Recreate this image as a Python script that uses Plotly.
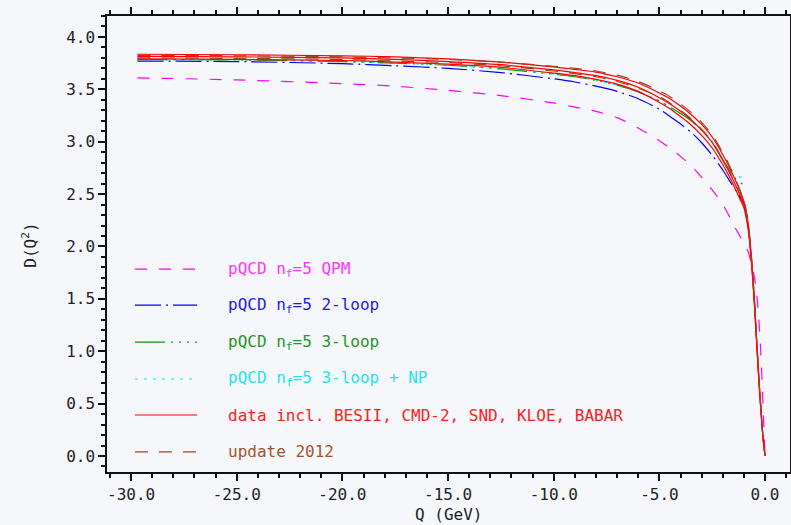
import plotly.graph_objects as go

# ---------------- data ----------------
Q = [-29.7, -25, -20, -17.5, -15, -12.5, -10, -9, -8, -7, -6, -5, -4.5, -4, -3.5, -3,
     -2.5, -2, -1.75, -1.5, -1.25, -1.0, -0.9, -0.8, -0.7, -0.6, -0.5, -0.4, -0.3, -0.2,
     -0.1, 0.0]
Q_blue = Q[:24]    # 2-loop curve ends near Q = -0.8
Q_green = Q[:23]   # 3-loop curves end near Q = -0.9

D_qpm = [3.61, 3.59, 3.555, 3.53, 3.49, 3.44, 3.37, 3.33, 3.29, 3.23, 3.13, 3.01, 2.94, 2.86,
         2.77, 2.66, 2.54, 2.40, 2.31, 2.21, 2.12, 2.03, 1.99, 1.95, 1.88, 1.80, 1.70, 1.56,
         1.32, 0.98, 0.50, 0.0]
D_2loop = [3.77, 3.765, 3.745, 3.725, 3.70, 3.66, 3.60, 3.57, 3.53, 3.48, 3.41, 3.31, 3.24,
           3.17, 3.09, 2.99, 2.87, 2.73, 2.65, 2.57, 2.49, 2.41, 2.33, 2.22]
D_3loop = [3.785, 3.78, 3.765, 3.75, 3.73, 3.695, 3.645, 3.62, 3.585, 3.54, 3.475, 3.39, 3.33,
           3.27, 3.20, 3.11, 3.00, 2.83, 2.75, 2.67, 2.62, 2.59, 2.585]
D_3loop_np = [3.785, 3.78, 3.765, 3.75, 3.73, 3.695, 3.645, 3.62, 3.585, 3.54, 3.475, 3.39, 3.33,
              3.27, 3.20, 3.11, 3.00, 2.83, 2.75, 2.68, 2.66, 2.67, 2.68]

D_data_up = [3.835, 3.83, 3.82, 3.81, 3.79, 3.76, 3.715, 3.69, 3.665, 3.62, 3.56, 3.465, 3.41,
             3.34, 3.26, 3.165, 3.045, 2.875, 2.78, 2.675, 2.56, 2.43, 2.34, 2.22, 2.03, 1.78,
             1.48, 1.12, 0.77, 0.46, 0.19, 0.0]
D_data = [3.815, 3.81, 3.80, 3.785, 3.765, 3.735, 3.685, 3.66, 3.63, 3.585, 3.52, 3.42, 3.36,
          3.29, 3.21, 3.11, 2.99, 2.82, 2.73, 2.63, 2.52, 2.40, 2.31, 2.19, 2.00, 1.75, 1.45,
          1.10, 0.75, 0.45, 0.18, 0.0]
D_data_lo = [3.79, 3.785, 3.775, 3.76, 3.74, 3.71, 3.655, 3.63, 3.595, 3.55, 3.48, 3.375, 3.315,
             3.24, 3.16, 3.06, 2.94, 2.78, 2.69, 2.59, 2.48, 2.37, 2.28, 2.16, 1.97, 1.72, 1.42,
             1.08, 0.73, 0.44, 0.17, 0.0]
D_2012_up = [3.825, 3.82, 3.81, 3.80, 3.785, 3.76, 3.72, 3.70, 3.675, 3.635, 3.575, 3.485, 3.43,
             3.36, 3.28, 3.185, 3.065, 2.895, 2.80, 2.69, 2.57, 2.44, 2.35, 2.23, 2.04, 1.79,
             1.49, 1.13, 0.78, 0.47, 0.19, 0.0]
D_2012 = [3.80, 3.795, 3.785, 3.77, 3.755, 3.725, 3.675, 3.65, 3.62, 3.575, 3.51, 3.43, 3.37,
          3.30, 3.22, 3.12, 3.00, 2.83, 2.74, 2.64, 2.53, 2.41, 2.32, 2.20, 2.01, 1.76, 1.46,
          1.11, 0.76, 0.45, 0.18, 0.0]

x_tickvals = [-30, -25, -20, -15, -10, -5, 0]
x_ticktext = ["-30.0", "-25.0", "-20.0", "-15.0", "-10.0", "-5.0", "0.0"]
y_tickvals = [0, 0.5, 1.0, 1.5, 2.0, 2.5, 3.0, 3.5, 4.0]
y_ticktext = ["0.0", "0.5", "1.0", "1.5", "2.0", "2.5", "3.0", "3.5", "4.0"]

legend_labels = [
    "pQCD n<sub>f</sub>=5 QPM",
    "pQCD n<sub>f</sub>=5 2-loop",
    "pQCD n<sub>f</sub>=5 3-loop",
    "pQCD n<sub>f</sub>=5 3-loop + NP",
    "data incl. BESII, CMD-2, SND, KLOE, BABAR",
    "update 2012",
]
x_title = "Q (GeV)"
y_title = "D(Q<sup>2</sup>)"

# ---------------- styles ----------------
MAG, BLUE, GREEN, CYAN, RED, BROWN = "#ff00ff", "#0000ff", "#109a10", "#00f0f0", "#ff0000", "#a8401a"
TXT = ["#ff33ff", "#1a1aee", "#1f961f", "#1ee6e6", "#ff2020", "#a5532e"]
DASH_QPM = "12px,12px"
DASH_2L = "26px,5px,2px,5px"
DASH_3L = "30px,6px,2px,6px,2px,6px,2px,6px"
DASH_NP = "3px,6px"
DASH_2012 = "13px,11px"
LW = 1.2
FONT = "DejaVu Sans Mono"
AX = "#111"

fig = go.Figure()

def add(x, y, color, dash="solid", width=LW):
    fig.add_trace(go.Scatter(x=x, y=y, mode="lines", showlegend=False, hoverinfo="skip",
                             line=dict(color=color, dash=dash, width=width,
                                       shape="spline", smoothing=0.6)))

add(Q, D_qpm, MAG, DASH_QPM)
add(Q_blue, D_2loop, BLUE, DASH_2L)
add(Q_green, D_3loop_np, CYAN, DASH_NP)
add(Q_green, D_3loop, GREEN, DASH_3L)
add(Q, D_data_up, RED)
add(Q, D_data, RED)
add(Q, D_data_lo, RED)
add(Q, D_2012_up, BROWN, DASH_2012)
add(Q, D_2012, BROWN, DASH_2012)

# ---------------- manual legend (paper coordinates) ----------------
rows_y = [0.445, 0.366, 0.285, 0.204, 0.125, 0.044]
colors = [MAG, BLUE, GREEN, CYAN, RED, BROWN]
dashes = [DASH_QPM, DASH_2L, DASH_3L, DASH_NP, "solid", DASH_2012]
shapes = []
annotations = []
for yy, c, d, lab, tc in zip(rows_y, colors, dashes, legend_labels, TXT):
    shapes.append(dict(type="line", xref="paper", yref="paper", x0=0.041, x1=0.132,
                       y0=yy, y1=yy, line=dict(color=c, dash=d, width=LW)))
    annotations.append(dict(xref="paper", yref="paper", x=0.174, y=yy, xanchor="left",
                            yanchor="middle", text=lab, showarrow=False,
                            font=dict(family=FONT, size=16, color=tc)))

# axis titles as annotations for exact placement
annotations.append(dict(xref="paper", yref="paper", x=0.5, y=-0.094, xanchor="center",
                        yanchor="middle", text=x_title, showarrow=False,
                        font=dict(family=FONT, size=16, color="#222")))
annotations.append(dict(xref="paper", yref="paper", x=-0.113, y=0.498, xanchor="center",
                        yanchor="middle", text=y_title, showarrow=False, textangle=-90,
                        font=dict(family=FONT, size=16, color="#222")))

axis_common = dict(showgrid=False, zeroline=False, showline=True, linecolor=AX,
                   linewidth=1.5, mirror="allticks", ticks="outside", tickcolor=AX,
                   tickwidth=1.5, automargin=False,
                   tickfont=dict(family=FONT, size=16, color="#222"))

fig.update_layout(
    width=791, height=525,
    margin=dict(l=107, r=1, t=16, b=53),
    paper_bgcolor="#f5f7fb", plot_bgcolor="#f5f7fb",
    shapes=shapes, annotations=annotations,
    xaxis=dict(range=[-31.14, 1.18], tickvals=x_tickvals, ticktext=x_ticktext, ticklen=7,
               minor=dict(dtick=1, tick0=0, ticks="outside", ticklen=4, tickcolor=AX, tickwidth=1.5),
               **axis_common),
    yaxis=dict(range=[-0.153, 4.2], tickvals=y_tickvals, ticktext=y_ticktext, ticklen=7,
               minor=dict(dtick=0.1, tick0=0, ticks="outside", ticklen=4, tickcolor=AX, tickwidth=1.5),
               **axis_common),
)

fig.write_html("out.html", config={"displayModeBar": False},
               post_script="document.body.style.margin='0px';document.body.style.overflow='hidden';document.body.style.background='#f5f7fb';")
